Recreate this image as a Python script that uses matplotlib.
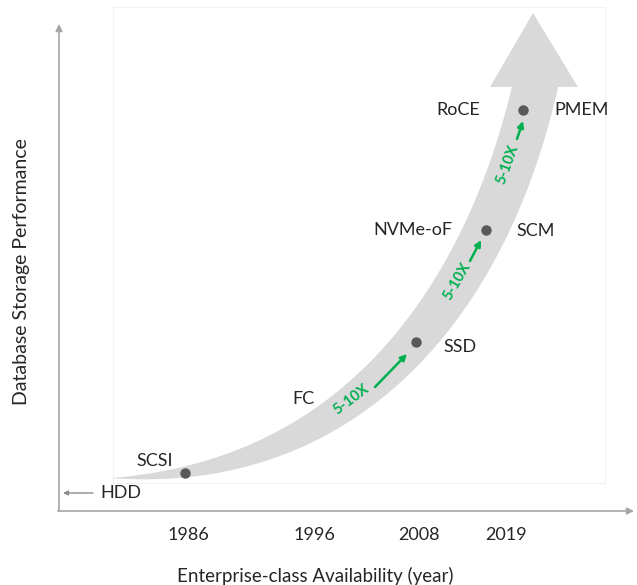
import numpy as np
import matplotlib
matplotlib.use("Agg")
import matplotlib.pyplot as plt
from matplotlib.patches import Polygon, Rectangle

plt.rcParams['font.family'] = ['Lato', 'DejaVu Sans']

# ---- data (canvas units: x right, y down) ----
years = ["1986", "1996", "2008", "2019"]
year_x = [188, 314, 419, 506]

dot_names = ["SCSI", "SSD", "SCM", "PMEM"]
dot_x = [185, 416, 486, 523]
dot_y = [473, 342, 230, 110]

left_labels = ["SCSI", "FC", "NVMe-oF", "RoCE"]
left_lx = [155, 303, 413, 458]
left_ly = [461, 399, 230, 110]
right_labels = ["SSD", "SCM", "PMEM"]
right_lx = [460, 536, 582]
right_ly = [347, 231, 110]

gain_text = ["5-10X", "5-10X", "5-10X"]
gain_tx = [351, 457, 508]
gain_ty = [400, 281, 164]
gain_rot = [37, 60, 70]
gain_from = [(375, 387), (470, 261), (517, 139)]
gain_to = [(407, 354), (481, 240), (523, 121)]

# band (big curved arrow) geometry
band_ctrl = [(110, 478), (360, 478), (488, 290), (535, 87)]
band_width = 45
head_pts = [(490, 87), (578, 87), (533, 13)]

TXT = '#262626'
AXC = '#a6a6a6'
GREEN = '#00b050'
BAND = '#d9d9d9'
FS = 13

fig = plt.figure(figsize=(6.37, 5.85), dpi=100)
ax = fig.add_axes([0, 0, 1, 1])
ax.set_xlim(0, 637)
ax.set_ylim(585, 0)
ax.axis('off')

# faint inner frame
ax.add_patch(Rectangle((113, 7), 492, 476, fill=False, ec='#f2f2f2', lw=0.8))

# band
P = np.array(band_ctrl, dtype=float)
t = np.linspace(0, 1.02, 400)
tt = t[:, None]
B = ((1 - tt) ** 3) * P[0] + 3 * ((1 - tt) ** 2) * tt * P[1] + 3 * (1 - tt) * tt ** 2 * P[2] + tt ** 3 * P[3]
D = 3 * ((1 - tt) ** 2) * (P[1] - P[0]) + 6 * (1 - tt) * tt * (P[2] - P[1]) + 3 * tt ** 2 * (P[3] - P[2])
D = D / np.linalg.norm(D, axis=1)[:, None]
N = np.column_stack([-D[:, 1], D[:, 0]])
tc = np.clip(t, 0, 1)
hw = band_width / 2 * (1 - (1 - tc) ** 2.5)
upper = B + N * hw[:, None]
lower = B - N * hw[:, None]
poly = np.vstack([upper, lower[::-1]])
ax.add_patch(Polygon(poly, closed=True, fc=BAND, ec='none', zorder=1))
ax.add_patch(Polygon(head_pts, closed=True, fc=BAND, ec='none', zorder=1))

# dots
ax.plot(dot_x, dot_y, 'o', ms=7.5, color='#595959', mec='none', zorder=3)

# labels
for s, x, y in zip(left_labels, left_lx, left_ly):
    ax.text(x, y, s, ha='center', va='center', fontsize=FS, color=TXT, zorder=4)
for s, x, y in zip(right_labels, right_lx, right_ly):
    ax.text(x, y, s, ha='center', va='center', fontsize=FS, color=TXT, zorder=4)

# gain annotations
for s, x, y, r, a, b in zip(gain_text, gain_tx, gain_ty, gain_rot, gain_from, gain_to):
    ax.text(x, y, s, ha='center', va='center', rotation=r, rotation_mode='anchor',
            fontsize=10.5, fontweight='bold', color=GREEN, zorder=4)
    ax.annotate('', xy=b, xytext=a,
                arrowprops=dict(arrowstyle='-|>', color=GREEN, lw=1.8,
                                mutation_scale=9, shrinkA=0, shrinkB=0), zorder=4)

# axes
ax.annotate('', xy=(59, 24), xytext=(59, 511),
            arrowprops=dict(arrowstyle='-|>', color=AXC, lw=1.2, mutation_scale=10,
                            shrinkA=0, shrinkB=0))
ax.annotate('', xy=(634, 511), xytext=(58, 511),
            arrowprops=dict(arrowstyle='-|>', color=AXC, lw=1.2, mutation_scale=10,
                            shrinkA=0, shrinkB=0))
# HDD arrow
ax.annotate('', xy=(63, 493), xytext=(93, 493),
            arrowprops=dict(arrowstyle='-|>', color='#8c8c8c', lw=1.0, mutation_scale=7,
                            shrinkA=0, shrinkB=0))
ax.text(121, 493, "HDD", ha='center', va='center', fontsize=FS, color=TXT)

# tick labels
for s, x in zip(years, year_x):
    ax.text(x, 535, s, ha='center', va='center', fontsize=FS, color=TXT)

ax.text(315, 576, "Enterprise-class Availability (year)", ha='center', va='center',
        fontsize=13.5, color=TXT)
ax.text(22, 272, "Database Storage Performance", ha='center', va='center',
        rotation=90, fontsize=14, color=TXT)

fig.savefig("out.png", dpi=100)
